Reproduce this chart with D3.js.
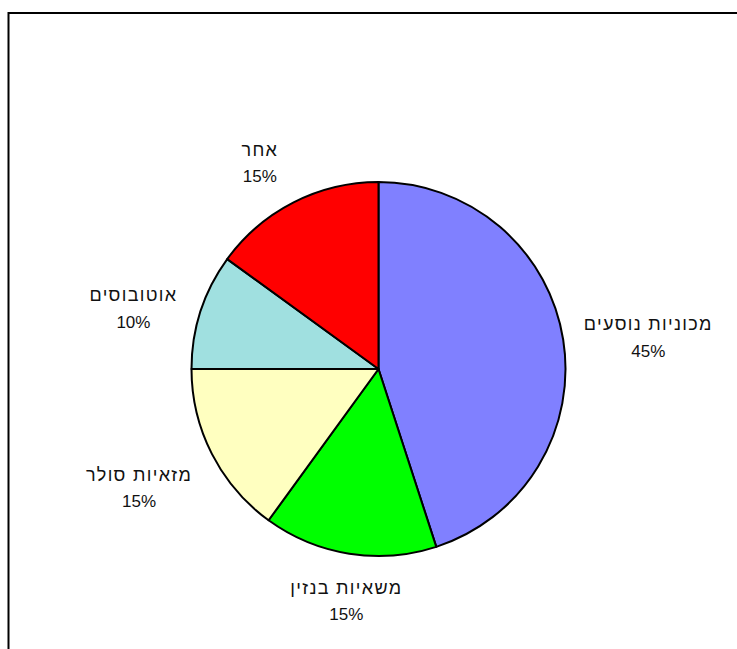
<!DOCTYPE html>
<html>
<head>
<meta charset="utf-8">
<script src="https://cdnjs.cloudflare.com/ajax/libs/d3/7.8.5/d3.min.js"></script>
<style>
  body { margin: 0; background: #fff; }
  svg { display: block; }
</style>
</head>
<body>
<script>
// data
var categories = ["מכוניות נוסעים", "משאיות בנזין", "מזאיות סולר", "אוטובוסים", "אחר"];
var shares = [45, 15, 15, 10, 15];
var colors = ["#8080FF", "#00FF00", "#FFFFC0", "#A0E0E0", "#FF0000"];

var svgWidth = 737;
var svgHeight = 649;

var center = { x: 378.5, y: 369 };
var radius = 187;

var svg = d3.select("body").append("svg")
    .attr("width", svgWidth)
    .attr("height", svgHeight);

// chart frame (top and left edges visible)
svg.append("path")
    .attr("d", `M8.5,${svgHeight + 5} L8.5,13 L${svgWidth + 5},13`)
    .attr("fill", "none")
    .attr("stroke", "#000")
    .attr("stroke-width", 2);

var chartGroup = svg.append("g")
    .attr("transform", `translate(${center.x}, ${center.y})`);

var pie = d3.pie().sort(null).value(d => d.value);
var arc = d3.arc().innerRadius(0).outerRadius(radius);

var data = categories.map((c, i) => ({ name: c, value: shares[i], color: colors[i] }));
var arcs = pie(data);

chartGroup.selectAll(".slice")
    .data(arcs)
    .enter()
    .append("path")
    .attr("class", "slice")
    .attr("d", arc)
    .attr("fill", d => d.data.color)
    .attr("stroke", "#000")
    .attr("stroke-width", 2)
    .attr("stroke-linejoin", "round");

// labels: name + percent, placed outside the slice along its mid angle
// small nudges to follow the original's best-fit placement
var labelNudge = [[-1, 11], [5, -3], [-4, -1], [-2, 18], [-12, 3]];
var lineGap = 27;
var pad = 20;

var labels = chartGroup.selectAll(".label")
    .data(arcs)
    .enter()
    .append("g")
    .attr("class", "label")
    .attr("fill", "#111");

labels.append("text")
    .attr("text-anchor", "middle")
    .attr("y", -lineGap / 2 + 6.5)
    .style("font-family", "'Liberation Sans', Arial, sans-serif")
    .style("font-size", "18px")
    .style("letter-spacing", "1.3px")
    .text(d => d.data.name);

labels.append("text")
    .attr("text-anchor", "middle")
    .attr("y", lineGap / 2 + 6)
    .style("font-family", "'Liberation Sans', Arial, sans-serif")
    .style("font-size", "17px")
    .text(d => d3.format(".0%")(d.value / d3.sum(shares)));

labels.attr("transform", function(d, i) {
    var w = d3.max(d3.select(this).selectAll("text").nodes(), n => n.getComputedTextLength());
    var mid = (d.startAngle + d.endAngle) / 2;
    var sx = Math.sin(mid), cy = -Math.cos(mid);
    var dist = radius + pad + Math.abs(sx) * w / 2 + Math.abs(cy) * 22;
    var x = sx * dist + labelNudge[i][0];
    var y = cy * dist + labelNudge[i][1];
    return `translate(${x}, ${y})`;
});
</script>
</body>
</html>
